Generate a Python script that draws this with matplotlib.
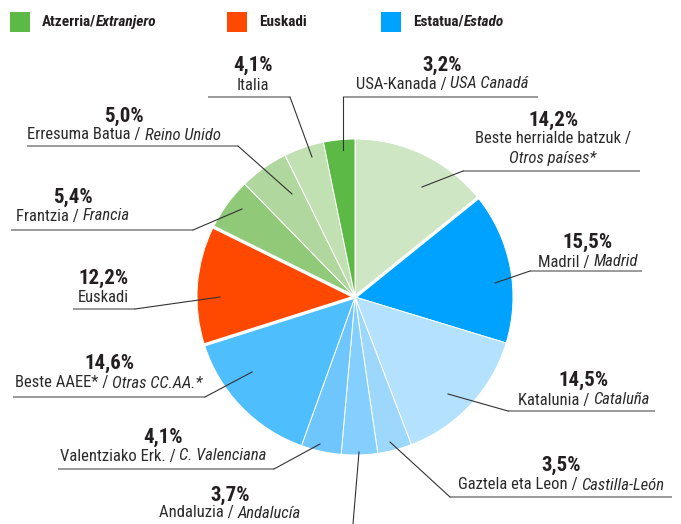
import matplotlib
matplotlib.use('Agg')
import matplotlib.pyplot as plt
from matplotlib import font_manager
import numpy as np

W, H = 681, 524

# ---- data ----
values = [14.2, 15.5, 14.5, 3.5, 3.7, 4.1, 14.6, 12.2, 5.4, 5.0, 4.1, 3.2]
pct_labels = ['14,2%', '15,5%', '14,5%', '3,5%', '3,7%', '4,1%', '14,6%',
              '12,2%', '5,4%', '5,0%', '4,1%', '3,2%']
names_eu = ['Beste herrialde batzuk /', 'Madril / ', 'Katalunia / ',
            'Gaztela eta Leon / ', 'Andaluzia / ', 'Valentziako Erk. / ',
            'Beste AAEE* / ', 'Euskadi', 'Frantzia / ', 'Erresuma Batua / ',
            'Italia', 'USA-Kanada / ']
names_es = ['Otros países*', 'Madrid', 'Cataluña', 'Castilla-León', 'Andalucía',
            'C. Valenciana', 'Otras CC.AA.*', '', 'Francia', 'Reino Unido', '',
            'USA Canadá']
groups = ['ext', 'est', 'est', 'est', 'est', 'est', 'est', 'eus',
          'ext', 'ext', 'ext', 'ext']
legend_eu = ['Atzerria/', 'Euskadi', 'Estatua/']
legend_es = ['Extranjero', '', 'Estado']

colors = ['#cfe6c5', '#00a2ff', '#b4e1fd', '#9dd7fc', '#84cffd', '#6ec6fc',
          '#4fbefd', '#ff4800', '#90c978', '#afd79e', '#c1e1b3', '#5cb946']
legend_colors = ['#5cb946', '#ff4800', '#00a2ff']

# ---- fonts ----
avail = {f.name for f in font_manager.fontManager.ttflist}
FONT = 'Roboto Condensed' if 'Roboto Condensed' in avail else 'DejaVu Sans'
TXT = '#231f20'

fig = plt.figure(figsize=(W / 100, H / 100), dpi=100)
ax = fig.add_axes([0, 0, 1, 1])

CX, CY, R = 355, H - 297, 158
wedges, _ = ax.pie(values, colors=colors, startangle=90, counterclock=False,
                   center=(CX, CY), radius=R,
                   wedgeprops=dict(edgecolor='white', linewidth=0.7))
ax.set_xlim(0, W)
ax.set_ylim(0, H)
ax.set_aspect('equal')
ax.axis('off')

# thicker white separators between groups
cum = np.cumsum([0] + values)
for i in range(len(values)):
    j = (i + 1) % len(values)
    if groups[i] != groups[j]:
        ang = np.deg2rad(90 - cum[i + 1] * 3.6)
        ax.plot([CX, CX + (R + 1) * np.cos(ang)], [CY, CY + (R + 1) * np.sin(ang)],
                color='white', lw=2.4, solid_capstyle='butt', zorder=5)

renderer = fig.canvas.get_renderer()


def mixed_line(xc, y, parts, size, weight='normal', ha='center', color=TXT):
    """parts: list of (text, style). y in pixel coords from top."""
    objs = []
    for txt, style in parts:
        if not txt:
            continue
        t = ax.text(0, H - y, txt, fontsize=size, fontfamily=FONT,
                    fontweight=weight, fontstyle=style, color=color,
                    ha='left', va='center', zorder=10)
        objs.append(t)
    widths = [t.get_window_extent(renderer).width for t in objs]
    total = sum(widths)
    x = xc - total / 2 if ha == 'center' else xc
    for t, w in zip(objs, widths):
        t.set_x(x)
        x += w


# label layout: pct (x,y), line1 y, line2 y or None, underline (x0,x1,y) or None, leader end
layout = [
    ((553, 120), 139, 158, (463, 640, 171), (422, 187)),
    ((588, 242), 262, None, (530, 642, 271), (495, 283)),
    ((584, 380), 400, None, (508, 655, 411), (448, 394)),
    ((561, 465), 485, None, (450, 672, 497), (390, 442)),
    ((230, 495), 513, None, None, (359, 452)),
    ((163, 437), 456, None, (58, 274, 469), (320, 444)),
    ((109, 363), 383, None, (13, 205, 397), (252, 372)),
    ((103, 278), 298, None, (73, 135, 309), (220, 297)),
    ((73, 197), 216, None, (11, 193, 230), (242, 209)),
    ((124, 116), 135, None, (27, 238, 146), (292, 194)),
    ((253, 65), 85, None, (208, 290, 97), (312, 157)),
    ((442, 65), 84, None, (343, 538, 97), (343, 150)),
]

for i, (pxy, y1, y2, ul, le) in enumerate(layout):
    mixed_line(pxy[0], pxy[1], [(pct_labels[i], 'normal')], 15, weight='bold')
    if y2 is None:
        mixed_line(pxy[0], y1, [(names_eu[i], 'normal'), (names_es[i], 'italic')], 12,
                   color='#2b2b2b')
    else:
        mixed_line(pxy[0], y1, [(names_eu[i], 'normal')], 12, color='#2b2b2b')
        mixed_line(pxy[0], y2, [(names_es[i], 'italic')], 12, color='#2b2b2b')
    if ul is not None:
        x0, x1, yu = ul
        ax.plot([x0, x1], [H - yu, H - yu], color='#7f7f7f', lw=1.1,
                solid_capstyle='butt', zorder=8)
        if x0 > CX:
            sx = x0
        elif x1 < CX:
            sx = x1
        else:
            sx = x0
        ax.plot([sx, le[0]], [H - yu, H - le[1]], color='#333333', lw=0.8, zorder=8)
    else:
        ax.plot([le[0], 353], [H - le[1], 0], color='#333333', lw=0.8, zorder=8)

# legend
leg_x = [10, 227, 381]
for k in range(3):
    ax.add_patch(plt.Rectangle((leg_x[k], H - 32), 20, 20, color=legend_colors[k],
                               lw=0, zorder=10))
    mixed_line(leg_x[k] + 32, 22, [(legend_eu[k], 'normal'), (legend_es[k], 'italic')],
               11, weight='bold', ha='left')

fig.savefig('out.png', dpi=100)
